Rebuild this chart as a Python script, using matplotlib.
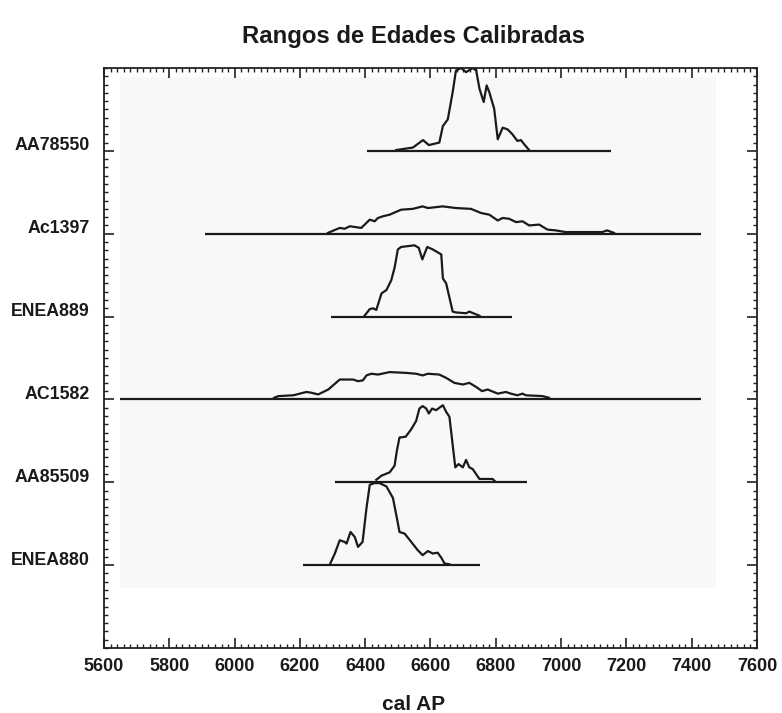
import matplotlib
matplotlib.use("Agg")
import matplotlib.pyplot as plt
from matplotlib.ticker import MultipleLocator
from matplotlib.patches import Rectangle
import matplotlib.transforms as mtransforms

plt.rcParams['font.family'] = ['Liberation Sans', 'DejaVu Sans']

title = "Rangos de Edades Calibradas"
xlabel = "cal AP"

# samples from bottom (1) to top (6)
samples = ["ENEA880", "AA85509", "AC1582", "ENEA889", "Ac1397", "AA78550"]

# calibrated ranges (horizontal bars), cal AP
range_start = [6210, 6307, 5650, 6295, 5910, 6405]
range_end = [6753, 6896, 7428, 6850, 7430, 7153]

# probability curves (year, relative height)
enea880_x = [6292, 6307, 6322, 6337, 6343, 6355, 6368, 6378, 6392, 6404, 6414, 6429, 6444, 6465,
             6485, 6497, 6505, 6521, 6541, 6561, 6576, 6592, 6607, 6622, 6633, 6643, 6658]
enea880_h = [0.01, 0.14, 0.30, 0.28, 0.26, 0.40, 0.34, 0.22, 0.28, 0.69, 0.97, 0.99, 0.99, 0.95,
             0.81, 0.57, 0.40, 0.38, 0.28, 0.18, 0.12, 0.17, 0.14, 0.15, 0.09, 0.02, 0.01]

aa85509_x = [6434, 6450, 6475, 6490, 6497, 6505, 6524, 6541, 6556, 6566, 6576, 6587, 6595, 6605,
             6617, 6638, 6648, 6658, 6676, 6686, 6699, 6709, 6719, 6729, 6750, 6790, 6798]
aa85509_h = [0.03, 0.08, 0.12, 0.20, 0.38, 0.54, 0.55, 0.64, 0.74, 0.89, 0.92, 0.89, 0.83, 0.89,
             0.87, 0.93, 0.85, 0.79, 0.18, 0.22, 0.18, 0.27, 0.18, 0.16, 0.04, 0.04, 0.01]

ac1582_x = [6121, 6134, 6180, 6220, 6236, 6256, 6287, 6322, 6363, 6378, 6393, 6404, 6419, 6439,
            6475, 6526, 6556, 6576, 6592, 6627, 6648, 6673, 6699, 6719, 6740, 6758, 6775, 6806,
            6831, 6846, 6866, 6882, 6892, 6943, 6963]
ac1582_h = [0.02, 0.04, 0.05, 0.09, 0.08, 0.06, 0.12, 0.24, 0.24, 0.22, 0.23, 0.29, 0.31, 0.30,
            0.33, 0.32, 0.31, 0.29, 0.31, 0.30, 0.26, 0.20, 0.18, 0.20, 0.15, 0.10, 0.12, 0.07,
            0.09, 0.07, 0.05, 0.07, 0.05, 0.04, 0.02]

enea889_x = [6398, 6414, 6424, 6434, 6450, 6465, 6480, 6490, 6500, 6510, 6551, 6564, 6575, 6590,
             6607, 6633, 6638, 6648, 6668, 6678, 6709, 6719, 6750]
enea889_h = [0.01, 0.09, 0.10, 0.08, 0.28, 0.32, 0.44, 0.59, 0.81, 0.84, 0.86, 0.83, 0.69, 0.84,
             0.81, 0.75, 0.46, 0.40, 0.06, 0.05, 0.04, 0.06, 0.01]

ac1397_x = [6286, 6322, 6337, 6353, 6388, 6414, 6429, 6439, 6454, 6475, 6510, 6546, 6576, 6592,
            6637, 6678, 6724, 6755, 6780, 6806, 6821, 6841, 6862, 6882, 6902, 6933, 6958, 6984,
            7014, 7126, 7141, 7162]
ac1397_h = [0.01, 0.07, 0.06, 0.09, 0.07, 0.17, 0.15, 0.19, 0.21, 0.23, 0.29, 0.30, 0.33, 0.31,
            0.33, 0.31, 0.30, 0.25, 0.23, 0.16, 0.19, 0.18, 0.14, 0.15, 0.10, 0.11, 0.05, 0.04,
            0.02, 0.02, 0.04, 0.01]

aa78550_x = [6495, 6546, 6577, 6595, 6627, 6638, 6653, 6668, 6678, 6694, 6709, 6729, 6740, 6750,
             6763, 6772, 6780, 6795, 6806, 6821, 6836, 6851, 6866, 6877, 6887, 6902]
aa78550_h = [0.01, 0.04, 0.13, 0.07, 0.10, 0.30, 0.38, 0.71, 0.97, 1.00, 0.95, 1.00, 0.97, 0.75,
             0.59, 0.79, 0.71, 0.51, 0.14, 0.28, 0.26, 0.20, 0.12, 0.13, 0.08, 0.01]

curves_x = [enea880_x, aa85509_x, ac1582_x, enea889_x, ac1397_x, aa78550_x]
curves_h = [enea880_h, aa85509_h, ac1582_h, enea889_h, ac1397_h, aa78550_h]

xticks = [5600, 5800, 6000, 6200, 6400, 6600, 6800, 7000, 7200, 7400, 7600]

fig = plt.figure(figsize=(7.82, 7.13), dpi=100)
ax = fig.add_axes([0.133, 0.0912, 0.835, 0.8134])

ax.set_xlim(5600, 7600)
ax.set_ylim(0, 7)

ax.add_patch(Rectangle((5650, 0.725), 7475 - 5650, 6.89 - 0.725,
                       facecolor='#f8f8f8', edgecolor='none', zorder=0))

for i, name in enumerate(samples):
    base = i + 1
    ax.hlines(base, range_start[i], range_end[i], color='#1a1a1a', lw=1.6, zorder=2)
    ys = [base + h for h in curves_h[i]]
    ax.plot(curves_x[i], ys, color='#1a1a1a', lw=1.6, zorder=3)

ax.set_xticks(xticks)
ax.set_xticklabels([str(t) for t in xticks], fontsize=13, fontweight='bold', color='#1a1a1a')
ax.xaxis.set_minor_locator(MultipleLocator(20))
ax.set_yticks(range(1, 7))
ax.set_yticklabels([])
ax.yaxis.set_minor_locator(MultipleLocator(0.1))

ax.tick_params(which='both', direction='in', top=True, right=True, color='#222222')
ax.tick_params(which='major', length=7, width=1.2, pad=7)
ax.tick_params(which='minor', length=3, width=1.0)
for s in ax.spines.values():
    s.set_linewidth(1.3)
    s.set_color('#222222')

trans = mtransforms.blended_transform_factory(ax.transAxes, ax.transData)
for i, name in enumerate(samples):
    ax.text(-0.022, i + 1 + 0.06, name, transform=trans, ha='right', va='center',
            fontsize=12.8, fontweight='bold', color='#1a1a1a')

fig.text(414 / 782, 1 - 37 / 713, title, ha='center', va='center',
         fontsize=17.2, fontweight='bold', color='#1a1a1a')
fig.text(414 / 782, 1 - 705 / 713, xlabel, ha='center', va='center',
         fontsize=15, fontweight='bold', color='#1a1a1a')

fig.savefig("out.png", dpi=100)
